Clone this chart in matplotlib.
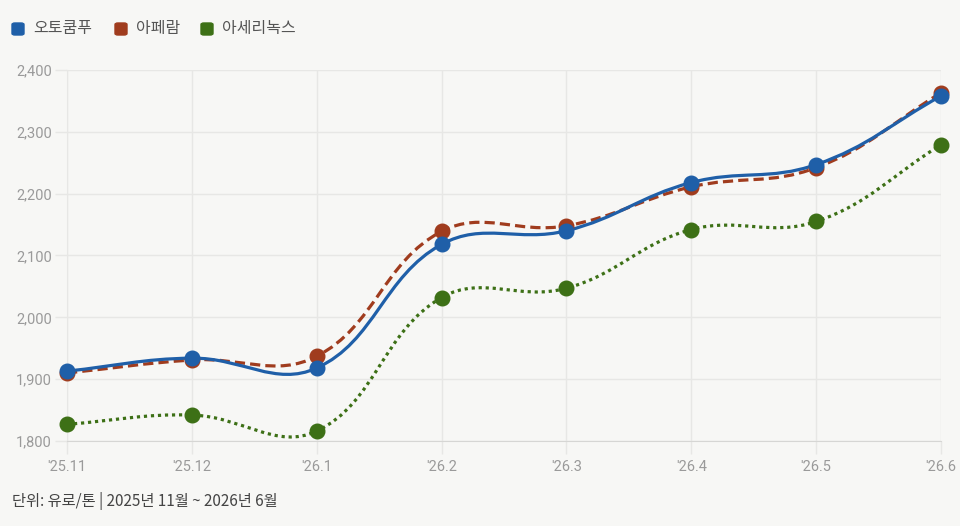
import numpy as np
import matplotlib
matplotlib.use("Agg")
import matplotlib.pyplot as plt
from matplotlib.path import Path
from matplotlib.patches import PathPatch, FancyBboxPatch

plt.rcParams['font.family'] = ['Noto Sans CJK KR', 'DejaVu Sans']

months = ["'25.11", "'25.12", "'26.1", "'26.2", "'26.3", "'26.4", "'26.5", "'26.6"]
outokumpu = [1913, 1934, 1918, 2118, 2140, 2218, 2247, 2358]
aperam = [1910, 1931, 1937, 2139, 2148, 2211, 2242, 2363]
acerinox = [1827, 1842, 1816, 2032, 2047, 2142, 2155, 2279]
names = ['오토쿰푸', '아페람', '아세리녹스']
colors = ['#1f5fa8', '#a03c1e', '#3d7016']
styles = ['-', (0, (3.2, 1.6)), (0, (1.0, 1.2))]
y_ticks = [1800, 1900, 2000, 2100, 2200, 2300, 2400]

BG = '#f7f7f5'
GRID = '#e7e7e5'

fig = plt.figure(figsize=(9.6, 5.26), dpi=100, facecolor=BG)
ax = fig.add_axes([67 / 960, 1 - 441 / 526, (941 - 67) / 960, (441 - 70) / 526])
ax.set_facecolor(BG)

# 픽셀 단위 비율 (chart.js tension 계산용)
sx, sy = 125.0, 0.618


def spline_path(xs, ys, t=0.4):
    n = len(xs)
    px = np.array(xs, float) * sx
    py = np.array(ys, float) * sy
    cp_prev = [None] * n
    cp_next = [None] * n
    for i in range(n):
        p0 = i - 1 if i > 0 else i
        p2 = i + 1 if i < n - 1 else i
        d01 = np.hypot(px[i] - px[p0], py[i] - py[p0])
        d12 = np.hypot(px[p2] - px[i], py[p2] - py[i])
        s01 = d01 / (d01 + d12) if d01 + d12 else 0
        s12 = d12 / (d01 + d12) if d01 + d12 else 0
        fa, fb = t * s01, t * s12
        dx, dy = px[p2] - px[p0], py[p2] - py[p0]
        cp_prev[i] = (px[i] - fa * dx, py[i] - fa * dy)
        cp_next[i] = (px[i] + fb * dx, py[i] + fb * dy)
    verts = [(px[0], py[0])]
    codes = [Path.MOVETO]
    for i in range(1, n):
        verts += [cp_next[i - 1], cp_prev[i], (px[i], py[i])]
        codes += [Path.CURVE4] * 3
    verts = [(vx / sx, vy / sy) for vx, vy in verts]
    return Path(verts, codes)


x = np.arange(len(months))
series = [outokumpu, aperam, acerinox]
order = [2, 1, 0]
for k in order:
    p = spline_path(x, series[k])
    ax.add_patch(PathPatch(p, fill=False, edgecolor=colors[k], lw=2.3,
                           linestyle=styles[k], capstyle='butt', zorder=3 + (2 - k) * 0.1))
for k in order:
    ax.plot(x, series[k], 'o', color=colors[k], ms=10.5, mec=colors[k], zorder=4 + (2 - k) * 0.1, clip_on=False)

ax.set_xlim(0, len(months) - 1)
ax.set_ylim(1800, 2400)
ax.set_xticks(x)
ax.set_xticklabels(months)
ax.set_yticks(y_ticks)
ax.set_yticklabels([f'{v:,}' for v in y_ticks])
for lab in ax.get_xticklabels() + ax.get_yticklabels():
    lab.set_fontfamily(['Roboto', 'DejaVu Sans'])
ax.grid(True, color=GRID, lw=1)
ax.set_axisbelow(True)
for s in ['top', 'right']:
    ax.spines[s].set_visible(False)
ax.spines['left'].set_color(GRID)
ax.spines['bottom'].set_color('#d6d6d4')
ax.tick_params(axis='both', colors=GRID, length=9, width=1, labelcolor='#9a9a9a', labelsize=10.5)
ax.tick_params(axis='x', pad=5)
ax.tick_params(axis='y', pad=2)

# 범례
leg_items = [(12, names[0]), (115, names[1]), (201, names[2])]
for (lx, name), c in zip(leg_items, colors):
    fig.patches.append(FancyBboxPatch((lx / 960, 1 - 35 / 526), 12 / 960, 12 / 526,
                                      boxstyle='round,pad=0,rounding_size=0.003',
                                      transform=fig.transFigure, fc=c, ec=c))
    fig.text((lx + 21) / 960, 1 - 29 / 526, name, fontsize=11.5, color='#555555',
             va='center', ha='left', fontweight='medium')

fig.text(12 / 960, 1 - 501 / 526, '단위: 유로/톤 | 2025년 11월 ~ 2026년 6월',
         fontsize=11, color='#444444', va='center', ha='left', fontweight='medium')

fig.savefig('out.png', dpi=100, facecolor=BG)
